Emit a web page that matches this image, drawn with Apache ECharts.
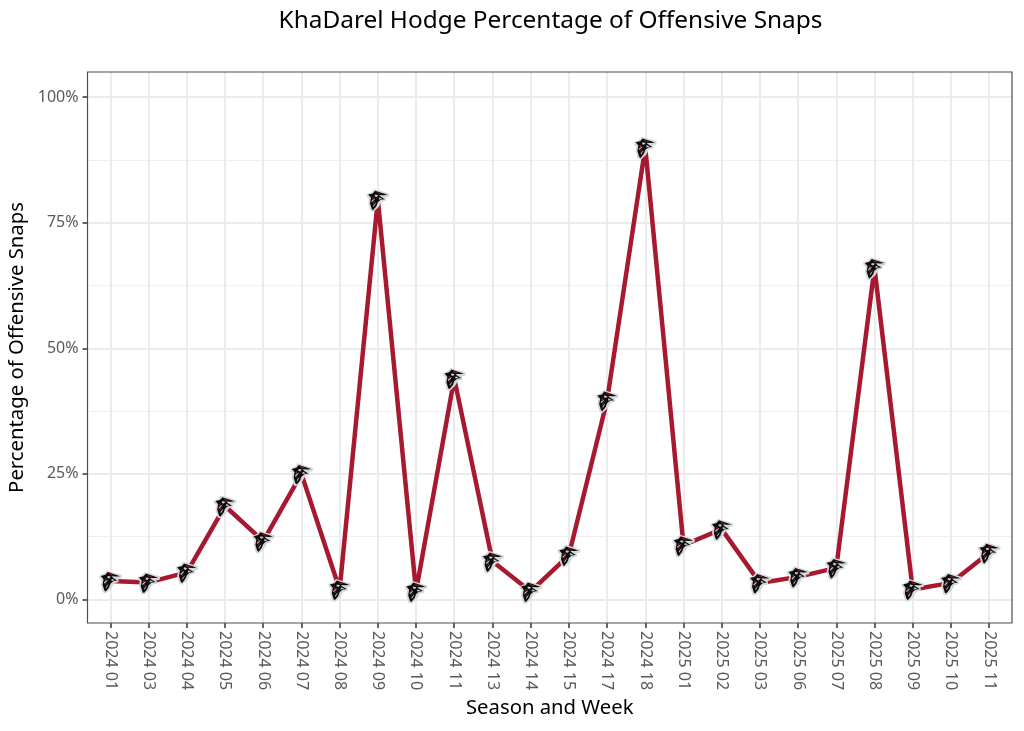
<!DOCTYPE html>
<html><head><meta charset="utf-8">
<style>html,body{margin:0;padding:0;background:#fff}#c{width:1024px;height:731px}</style>
<script src="https://cdn.jsdelivr.net/npm/echarts@6/dist/echarts.min.js"></script>
</head><body><div id="c"></div>
<script>
const weeks = ['2024 01','2024 03','2024 04','2024 05','2024 06','2024 07','2024 08','2024 09','2024 10','2024 11','2024 13','2024 14','2024 15','2024 17','2024 18','2025 01','2025 02','2025 03','2025 06','2025 07','2025 08','2025 09','2025 10','2025 11'];
const snapPct = [3.7,3.4,5.4,18.6,11.6,25,2,79.6,1.6,44,7.6,1.6,8.8,39.6,90,10.8,14,3.3,4.5,6.3,66,2,3.3,9.3];
const majorTicks = [0,25,50,75,100];
const minorTicks = [12.5,37.5,62.5,87.5];
const titleText = 'KhaDarel Hodge Percentage of Offensive Snaps';
const xName = 'Season and Week';
const yName = 'Percentage of Offensive Snaps';

const FONT = '"Noto Sans","Open Sans",sans-serif';
const corners = 'M0 0L0 0Z M100 100L100 100Z ';
const halo = 'path://' + corners + 'M0 24L22 14L34 0L100 20L98 34L84 36L86 50L66 56L54 78L30 100L18 96L8 62L12 40L4 36Z';
const black = 'path://' + corners + 'M8 24L28 19L38 7L92 25L76 27L56 26L62 33L80 44L62 47L50 58L44 74L30 92L24 88L16 62L20 38Z';
const red = 'path://' + corners + 'M42 13L60 18L70 23L50 20Z M26 38L32 34L31 43L26 48Z M28 60L36 50L35 56L29 66Z';
const white = 'path://' + corners + 'M38 24L52 27L45 35L36 32Z M56 36L70 43L54 46Z M22 52L38 40L36 46L24 58Z M30 72L42 58L40 64L32 78Z';

const points = snapPct.map((v, i) => [i, v]);
const layer = (symbol, color) => ({
  type: 'scatter', data: points, symbol, symbolSize: [23, 23], symbolOffset: [0, 1],
  itemStyle: {color, opacity: 1}, silent: true, z: 5, animation: false
});

const chart = echarts.init(document.getElementById('c'), null, {renderer: 'canvas'});
chart.setOption({
  animation: false,
  backgroundColor: '#fff',
  title: {text: titleText, left: 545.5, top: 4, textAlign: 'center',
    textStyle: {fontFamily: FONT, fontSize: 24.4, fontWeight: 'normal', color: '#000'}},
  grid: {left: 87.5, right: 12, top: 72, bottom: 108, show: true, borderColor: '#4d4d4d', borderWidth: 1.2, backgroundColor: 'transparent', z: 3, outerBoundsMode: 'none', containLabel: false},
  xAxis: {
    type: 'value', min: -0.6, max: 23.6,
    name: xName, nameLocation: 'center', nameGap: 75,
    nameTextStyle: {fontFamily: FONT, fontSize: 20.3, color: '#000'},
    axisLine: {show: false, onZero: false},
    axisTick: {show: true, length: 5, customValues: weeks.map((w, i) => i), lineStyle: {color: '#333', width: 1.5}},
    axisLabel: {customValues: weeks.map((w, i) => i), rotate: -90, margin: 8, formatter: v => weeks[v], fontFamily: FONT, fontSize: 16, color: '#5a5a5a', hideOverlap: false, showMinLabel: true, showMaxLabel: true},
    splitLine: {show: true, lineStyle: {color: '#ebebeb', width: 2}}
  },
  yAxis: [{
    type: 'value', min: -4.68, max: 104.98,
    name: yName, nameLocation: 'center', nameGap: 54,
    nameTextStyle: {fontFamily: FONT, fontSize: 20.3, color: '#000'},
    axisLine: {show: false, onZero: false},
    axisTick: {show: true, length: 5, customValues: majorTicks, lineStyle: {color: '#333', width: 1.5}},
    axisLabel: {customValues: majorTicks, formatter: v => v + '%', margin: 9, fontFamily: FONT, fontSize: 16, color: '#5a5a5a', showMinLabel: true, showMaxLabel: true},
    splitLine: {show: true, lineStyle: {color: '#ebebeb', width: 2}}
  },{
    type: 'value', min: -4.68, max: 104.98, position: 'left',
    axisLine: {show: false, onZero: false}, axisLabel: {show: false},
    axisTick: {show: false, customValues: minorTicks},
    splitLine: {show: true, lineStyle: {color: '#efefef', width: 1.2}}
  }],
  series: [
    {type: 'line', data: points, showSymbol: false, symbol: 'none', z: 4,
     lineStyle: {color: '#a71930', width: 4.5, join: 'bevel'}, silent: true},
    layer(halo, '#d4d6d8'), layer(black, '#0b0b0b'), layer(red, '#a71930'), layer(white, '#c9ccce')
  ]
});
</script></body></html>
